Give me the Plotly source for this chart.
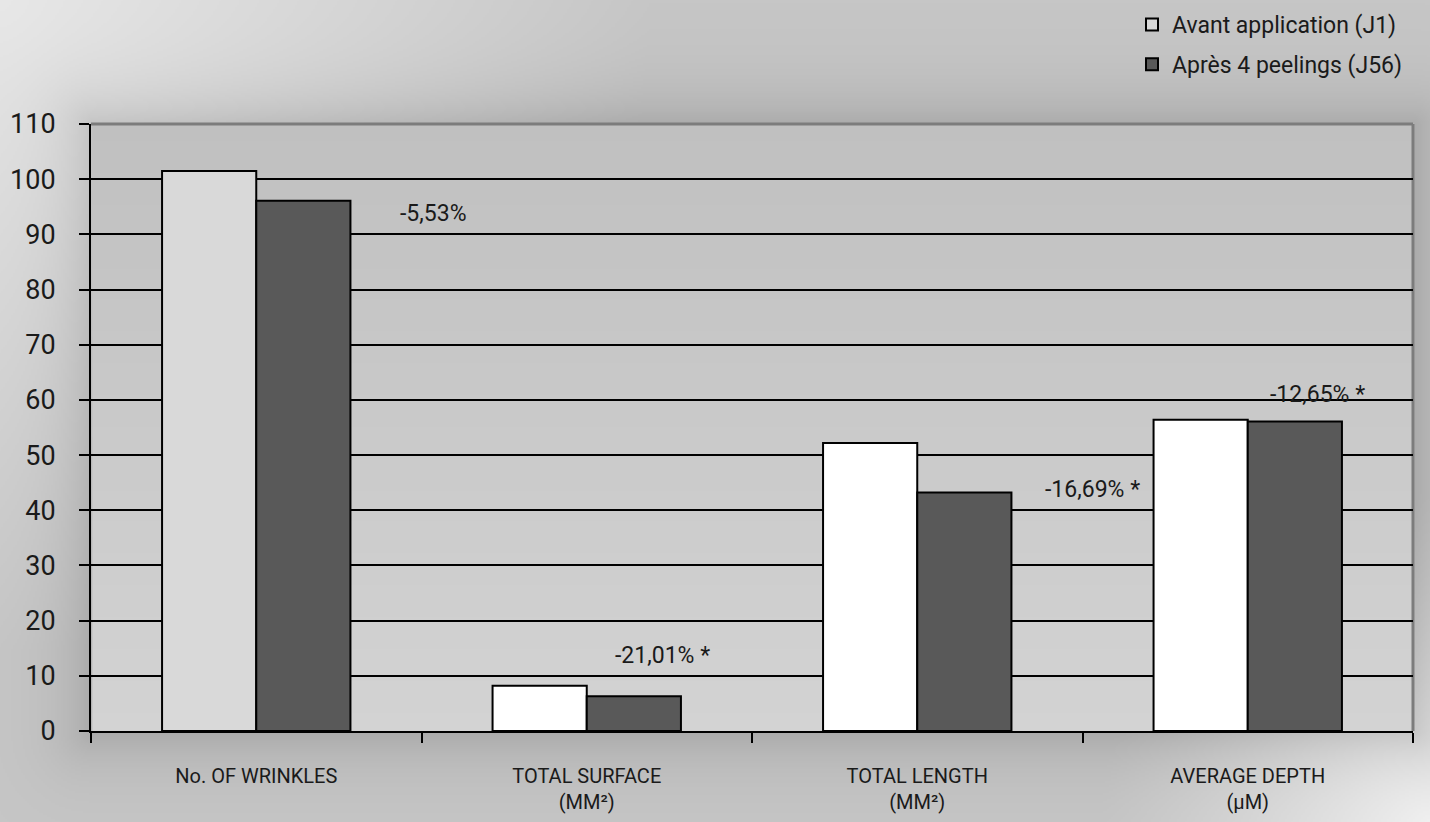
import base64, struct, zlib
import numpy as np
import plotly.graph_objects as go

# ---------------- data ----------------
categories = ["No. OF WRINKLES", "TOTAL SURFACE<br>(MM²)", "TOTAL LENGTH<br>(MM²)", "AVERAGE DEPTH<br>(µM)"]
series_names = ["Avant application (J1)", "Après 4 peelings (J56)"]
before_values = [101.5, 8.2, 52.2, 56.4]
after_values = [96.1, 6.3, 43.2, 56.1]
change_labels = ["-5,53%", "-21,01% *", "-16,69% *", "-12,65% *"]
change_x = [0.535, 1.23, 2.53, 3.21]
change_y = [93.8, 13.6, 43.8, 61.0]
y_ticks = list(range(0, 111, 10))

# ---------------- geometry ----------------
W, H = 1430, 822
ML, MR, MT, MB = 91, 17, 124, 91
PW, PH = W - ML - MR, H - MT - MB


def png_uri(arr):
    h, w = arr.shape
    raw = b"".join(b"\x00" + arr[i].tobytes() for i in range(h))

    def chunk(tag, data):
        c = struct.pack(">I", len(data)) + tag + data
        return c + struct.pack(">I", zlib.crc32(tag + data) & 0xFFFFFFFF)

    png = b"\x89PNG\r\n\x1a\n" + chunk(b"IHDR", struct.pack(">IIBBBBB", w, h, 8, 0, 0, 0, 0))
    png += chunk(b"IDAT", zlib.compress(raw, 9)) + chunk(b"IEND", b"")
    return "data:image/png;base64," + base64.b64encode(png).decode()


# background (page vignette + plot-area gradient)
S = 2
yy, xx = np.mgrid[0:H:S, 0:W:S].astype(float)
r_tl = np.hypot(xx, yy)
r_br = np.hypot(W - xx, H - yy)
bright = 0.78 + 0.13 * np.clip(1 - r_tl / 650, 0, 1) + 0.17 * np.clip(1 - r_br / 330, 0, 1) ** 1.2
x0, x1, y0, y1 = ML, W - MR, MT, H - MB
dx = np.maximum(np.maximum(x0 - xx, xx - x1), 0)
dy = np.maximum(np.maximum(y0 - yy, yy - y1), 0)
d = np.hypot(dx, dy)
bright -= 0.11 * np.exp(-d / 35)
inside = (xx >= x0) & (xx <= x1) & (yy >= y0) & (yy <= y1)
grad = 0.755 + 0.075 * (yy - y0) / (y1 - y0)
bright = np.where(inside, grad, bright)
img = np.clip(bright * 255, 0, 255).astype(np.uint8)
bg_uri = png_uri(img)

fig = go.Figure()
fig.add_trace(go.Bar(
    x=categories, y=before_values, name=series_names[0],
    marker=dict(color=["#d9d9d9", "#ffffff", "#ffffff", "#ffffff"], line=dict(color="#000000", width=2)),
    legendgroup="a",
))
fig.add_trace(go.Bar(
    x=categories, y=after_values, name=series_names[1],
    marker=dict(color="#595959", line=dict(color="#000000", width=2)),
    legendgroup="b",
))

for lab, xv, yv in zip(change_labels, change_x, change_y):
    fig.add_annotation(x=xv, y=yv, text=lab, showarrow=False, xref="x", yref="y",
                       font=dict(family="Roboto", size=23, color="#1a1a1a"))

fig.add_layout_image(dict(
    source=bg_uri, xref="paper", yref="paper",
    x=-ML / PW, y=1 + MT / PH, sizex=W / PW, sizey=H / PH,
    xanchor="left", yanchor="top", sizing="stretch", layer="below",
))

# top and right border shadow lines
fig.add_shape(type="line", xref="paper", yref="paper", x0=0, x1=1, y0=1, y1=1,
              line=dict(color="#7c7c7c", width=3), layer="below")
fig.add_shape(type="line", xref="paper", yref="paper", x0=1, x1=1, y0=0, y1=1,
              line=dict(color="#7c7c7c", width=3), layer="below")

fig.update_layout(
    width=W, height=H,
    margin=dict(l=ML, r=MR, t=MT, b=MB, pad=0, autoexpand=False),
    paper_bgcolor="#c8c8c8", plot_bgcolor="rgba(0,0,0,0)",
    barmode="group", bargap=0.43, bargroupgap=0,
    showlegend=True,
    legend=dict(
        x=(1132 - ML) / PW, xanchor="left", y=1 + (MT - 3) / PH, yanchor="top",
        bgcolor="rgba(0,0,0,0)", font=dict(family="Roboto", size=23, color="#1a1a1a"),
        traceorder="grouped", tracegroupgap=7, itemclick=False,
    ),
    font=dict(family="Roboto", color="#1a1a1a"),
)
fig.update_xaxes(
    range=[-0.5, 3.5], showgrid=False, showline=True, linecolor="#000000", linewidth=2,
    ticks="outside", ticklen=10, tickwidth=2, tickcolor="#000000", tickson="boundaries",
    tickfont=dict(family="Roboto", size=20, color="#1a1a1a"), ticklabelstandoff=26,
    fixedrange=True,
)
fig.update_yaxes(
    range=[0, 110], tickvals=y_ticks, showgrid=True, gridcolor="#000000", gridwidth=2,
    showline=True, linecolor="#000000", linewidth=2, zeroline=False,
    ticks="outside", ticklen=10, tickwidth=2, tickcolor="#000000",
    tickfont=dict(family="Roboto", size=27, color="#1a1a1a"), ticklabelstandoff=18,
    fixedrange=True,
)

fig.write_html(
    "out.html",
    config={"displayModeBar": False},
    post_script="document.body.style.margin='0';document.body.style.background='#c8c8c8';",
)
